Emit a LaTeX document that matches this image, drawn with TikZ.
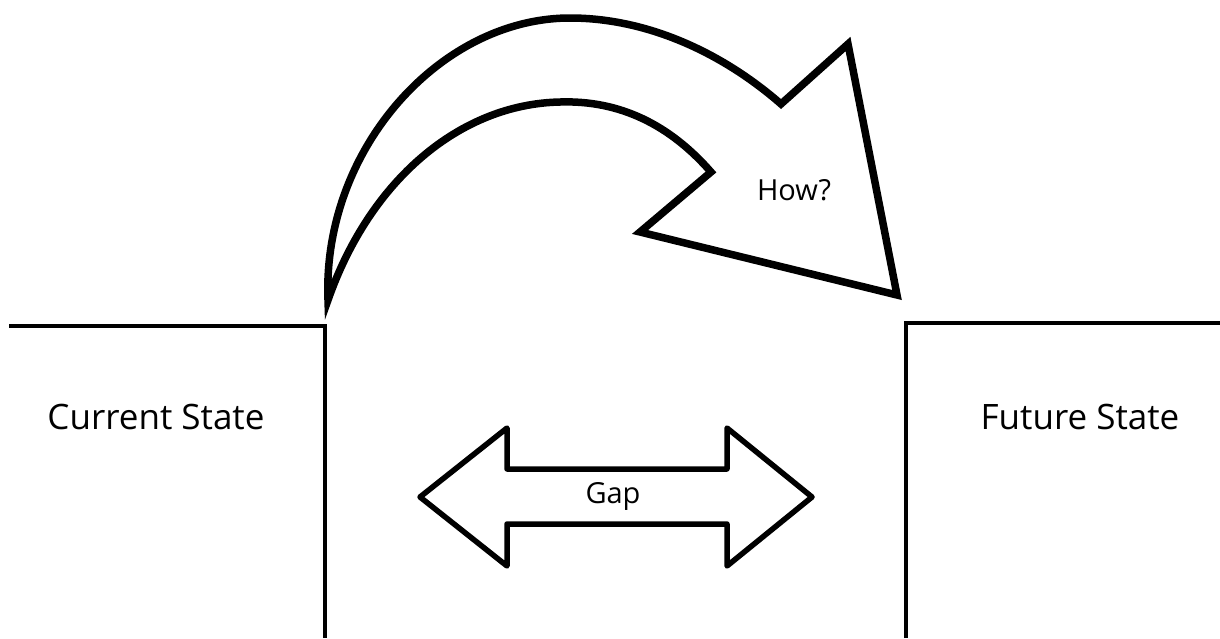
\documentclass[tikz,border=0pt]{standalone}
\usepackage{fontspec}
\setmainfont{Open Sans}
\begin{document}
\begin{tikzpicture}[x=1pt,y=-1pt,
  boxline/.style={line width=3.5pt, line cap=butt},
  bigarrow/.style={line width=7.5pt, line join=miter, fill=white},
  gaparrow/.style={line width=5.5pt, line join=round, fill=white},
  lbl/.style={font=\fontsize{35}{40}\selectfont, inner sep=0pt}]
\useasboundingbox[fill=white] (0,0) rectangle (1220,638);
% left box
\draw[boxline] (9,326) -- (325,326) -- (325,638);
% right box
\draw[boxline] (906,638) -- (906,323) -- (1220,323);
% curved arrow
\draw[bigarrow] (328,300)
  .. controls (322,150) and (440,18) .. (570,18)
  .. controls (650,18) and (725,55) .. (781,104)
  -- (848,44) -- (897,295) -- (640,232) -- (711,172)
  .. controls (670,125) and (620,100) .. (560,102)
  .. controls (460,104) and (370,180) .. (328,300) -- cycle;
% gap double arrow
\draw[gaparrow] (420,497) -- (507,428) -- (507,469) -- (727,469) -- (727,428)
  -- (812,497) -- (727,566) -- (727,524) -- (507,524) -- (507,566) -- cycle;
\node[lbl] (cur) at (156,417) {Current State};
\node[lbl] (fut) at (1080,417) {Future State};
\node[lbl, font=\fontsize{29}{34}\selectfont] (how) at (794,190) {How?};
\node[lbl, font=\fontsize{29}{34}\selectfont] (gap) at (613,496) {Gap};
\end{tikzpicture}
\end{document}
